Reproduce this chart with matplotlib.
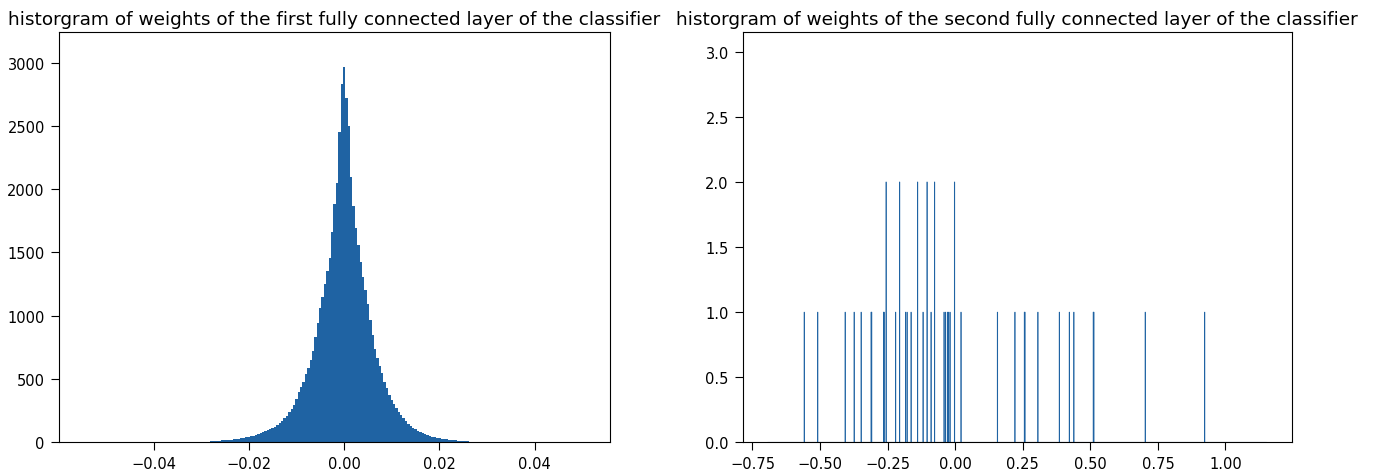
import numpy as np
import matplotlib
matplotlib.use("Agg")
import matplotlib.pyplot as plt

# ---------------- data ----------------
# Left: counts per bin (bin width 0.0005), bins centred at k*0.0005, k = -60..60
fc1_bin_width = 0.0005
fc1_counts_neg = [  # k = -60 .. -1
    3, 4, 5, 6, 8, 9, 11, 13, 14, 15,
    16, 17, 19, 21, 23, 26, 28, 31, 34, 38,
    42, 47, 52, 57, 64, 72, 80, 88, 95, 104,
    112, 122, 133, 150, 168, 190, 210, 238, 265, 295,
    340, 395, 435, 480, 540, 590, 650, 720, 830, 940,
    1060, 1150, 1250, 1350, 1460, 1660, 1880, 2050, 2450, 2830,
]
fc1_count_zero = [2968]
fc1_counts_pos = [  # k = 1 .. 60
    2720, 2500, 2100, 1870, 1690, 1560, 1425, 1310, 1200, 1090,
    970, 850, 740, 665, 600, 545, 480, 425, 375, 335,
    300, 268, 240, 212, 188, 165, 148, 130, 115, 102,
    90, 78, 70, 62, 55, 49, 43, 38, 34, 30,
    27, 24, 22, 21, 19, 17, 15, 14, 13, 12,
    10, 8, 6, 5, 4, 2, 1, 1, 0, 0,
]
fc1_xlim = (-0.0599, 0.0558)
fc1_ylim = (0, 3240)

# Right: individual weights of the second FC layer
fc2_weights = [
    -0.559, -0.508, -0.406, -0.373, -0.348, -0.311, -0.309,
    -0.265, -0.262, -0.256, -0.256, -0.221, -0.205, -0.205,
    -0.183, -0.177, -0.163, -0.139, -0.139, -0.119, -0.103, -0.103,
    -0.089, -0.077, -0.077, -0.041, -0.035, -0.029, -0.024, -0.019,
    -0.003, -0.003, 0.021, 0.156, 0.222, 0.256, 0.258, 0.307,
    0.386, 0.423, 0.439, 0.511, 0.513, 0.703, 0.923,
]
fc2_range = (-0.694, 1.153)
fc2_nbins = 1000
fc2_ylim = (0, 3.15)

titles = [
    "historgram of weights of the first fully connected layer of the classifier",
    "historgram of weights of the second fully connected layer of the classifier",
]

color = "#1f63a3"

# ---------------- figure ----------------
fig = plt.figure(figsize=(13.76, 4.77), dpi=100)
ax1 = fig.add_axes([0.04266, 0.0707, 0.40065, 0.8595])
ax2 = fig.add_axes([0.53975, 0.0707, 0.39898, 0.8595])

counts = np.array(fc1_counts_neg + fc1_count_zero + fc1_counts_pos, dtype=float)
n = len(fc1_counts_neg)
centers = (np.arange(len(counts)) - n) * fc1_bin_width
edges = np.concatenate([centers - fc1_bin_width / 2, [centers[-1] + fc1_bin_width / 2]])
ax1.stairs(counts, edges, fill=True, color=color, linewidth=0)
ax1.set_xlim(*fc1_xlim)
ax1.set_ylim(*fc1_ylim)
ax1.set_title(titles[0], fontsize=13.3)

_, _, patches = ax2.hist(fc2_weights, bins=fc2_nbins, range=fc2_range,
                         color=color, edgecolor=color, linewidth=0.45)
for p in patches:
    p.set_snap(False)
ax2.set_xlim(-0.786, 1.245)
ax2.set_ylim(*fc2_ylim)
ax2.set_title(titles[1], fontsize=13.3)

for ax in (ax1, ax2):
    ax.tick_params(labelsize=10.5, length=5.5, pad=4.5)

fig.savefig("out.png", dpi=100)
